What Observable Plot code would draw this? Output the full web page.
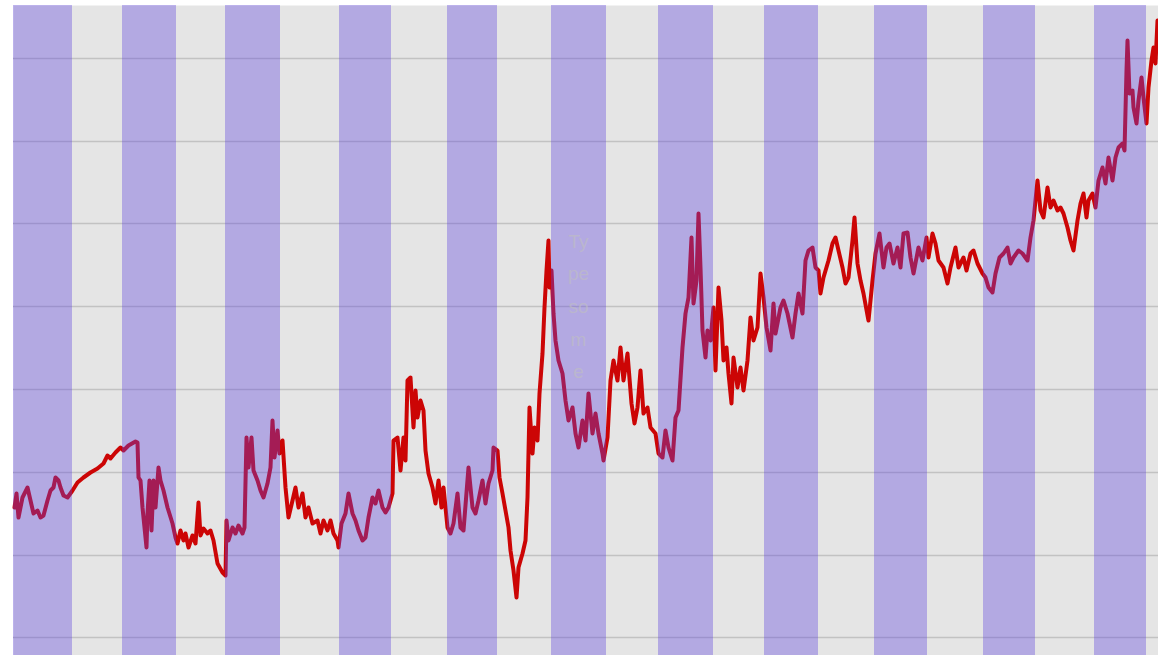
<!DOCTYPE html>
<html>
<head>
<meta charset="utf-8">
<script src="https://cdn.jsdelivr.net/npm/d3@7"></script>
<script src="https://cdn.jsdelivr.net/npm/@observablehq/plot@0.6"></script>
<style>
  html, body { margin: 0; padding: 0; background: #ffffff; }
  #chart svg { display: block; }
</style>
</head>
<body>
<div id="chart"></div>
<script>
// Alternating shaded periods (start / end, in weeks from series start)
const bandStart = [0, 109, 212, 326, 434, 538, 645, 751, 861, 970, 1081];
const bandEnd   = [59, 163, 267, 378, 484, 593, 700, 805, 914, 1022, 1133];

// Horizontal gridline levels
const gridLevels = [18, 100, 183, 266, 349, 432, 514, 597];

// Series: week index and level
const weeks = [
  1,3,5,9,14,17,20,24,27,30, 34,37,40,42,45,47,50,54,59,64, 70,77,84,90,94,97,102,107,110,115,
  122,124,125,127,129,131,133,134,136,138, 140,142,145,147,150,154,159,162,164,167,
  170,172,175,179,182,185,187,190,194,197, 200,204,209,212,
  213,215,219,222,225,229,231,233,235,238, 240,244,247,250,254,257,259,261,264,266,
  269,272,275,279,282,285,289,292,295,299, 304,307,310,314,317,320,324,325,328,332,
  335,339,342,345,349,352,355,359,362,365, 369,372,375,379,380,384,387,390,392,394,
  397,400,402,404,407,410,412,415,419,422, 425,428,430,434,437,440,444,
  447,450,455,459,462,465,469,472,475,479, 480,484,486,489,492,495,497,500,503,505,
  509,512,514,516,519,521,524,526,529,531, 533,535,536,538,540,542,545,549,552,555,
  559,562,565,569,572,575,579,582,585,589, 590,594,597,600,604,607,610,614,618,621, 624,
  627,630,634,637,642,645,649,652,655,659, 662,665,669,672,675,678,680,683,685,687,
  689,692,694,697,700,702,705,708,710,713, 715,718,720,724,727,730,734,737,740,744,
  747,750,753,757,760,762,767,770,774,779, 782,785,789,792,795,799,802,805,
  807,810,815,819,822,825,829,832,835,839, 841,844,847,850,854,855,859,862,866,870,
  873,876,880,884,887,890,894,897,900,905, 909,913,915,919,922,925,930,934,937,942,
  945,950,953,957,960,964,969,972,975,979, 982,986,990,994,997,1000,1005,1009,1014,1017, 1020,
  1024,1027,1030,1034,1037,1040,1044,1047,1050,1054, 1057,1060,1064,1067,1070,1073,1075,1079,1082,1085,
  1089,1092,1095,1099,1102,1105,1109,1111,1113,1114, 1116,1119,1120,1123,1125,1128,1130,1133,1135,1138,
  1140,1142,1144,1145
];
const levels = [
  148,162,138,158,168,155,142,145,138,140, 155,165,168,178,175,168,160,158,165,173, 178,183,187,192,200,197,203,208,205,210,
  214,213,178,175,148,128,108,142,175,125, 175,148,188,175,165,148,132,118,112,125,
  115,122,108,120,112,153,120,127,122,125, 115,92,83,80,
  135,115,128,122,130,122,128,218,188,218, 185,175,165,158,172,188,235,198,225,202,
  215,168,138,155,168,148,162,138,148,132, 135,122,135,125,135,122,115,108,132,142,
  162,142,135,125,115,118,138,158,152,165, 148,143,148,162,215,218,185,218,195,275,
  278,228,265,238,255,245,205,182,168,152, 175,148,168,128,122,132,162,
  128,125,188,148,142,155,175,152,172,185, 208,205,178,162,145,128,105,85,58,88,
  102,115,158,248,202,228,215,262,302,348, 385,415,368,385,342,315,295,282,255,235,
  248,222,208,235,215,262,222,242,222,202, 195,218,275,295,275,308,275,302,252,232, 248,
  285,242,248,228,222,202,198,225,208,195, 238,245,308,342,358,418,352,375,442,388,
  325,298,325,315,348,285,368,335,295,308, 282,252,298,268,288,265,295,338,315,328,
  382,358,328,305,352,322,348,355,342,318, 342,362,342,395,405,408,388,385,
  362,378,395,412,418,405,388,372,378,415, 438,392,375,362,340,335,375,402,422,388,
  408,412,392,408,388,422,423,398,382,408, 395,418,398,422,412,395,388,372,388,408,
  388,398,385,402,405,392,382,378,368,363, 382,398,402,408,392,398,405,402,395,418, 435,
  475,445,438,468,448,455,445,448,442,428, 415,405,435,452,462,438,455,462,448,475,
  488,472,498,475,498,508,512,505,585,615, 562,565,548,532,555,578,558,532,568,595,
  608,592,635,625
];

// Placeholder note shown on the chart
const noteLines = ["Ty", "pe", "so", "m", "e"];

const series = weeks.map((w, i) => ({week: w, level: levels[i]}));
const bands = bandStart.map((s, i) => ({start: s, end: bandEnd[i]}));

const chart = Plot.plot({
  width: 1158,
  height: 655,
  marginLeft: 13,
  marginRight: 0,
  marginTop: 5,
  marginBottom: 0,
  x: {domain: [0, 1145], axis: null},
  y: {domain: [0, 650], axis: null},
  style: {background: "#ffffff"},
  marks: [
    Plot.frame({fill: "#e5e5e5", stroke: null}),
    Plot.ruleY(gridLevels, {stroke: "#c2c2c2", strokeWidth: 1.5}),
    Plot.line(series, {x: "week", y: "level", stroke: "#cc0505", strokeWidth: 4, strokeLinejoin: "round", strokeLinecap: "round"}),
    Plot.rect(bands, {x1: "start", x2: "end", fill: "#5e43df", fillOpacity: 0.37}),
    Plot.text([noteLines.join("\n")], {
      x: 565, y: 353, text: d => d,
      fontSize: 19, lineHeight: 1.72,
      fontFamily: "Liberation Sans, Arial, sans-serif",
      fill: "#c0c0c0", fillOpacity: 0.6
    })
  ]
});
document.getElementById("chart").appendChild(chart);
</script>
</body>
</html>
